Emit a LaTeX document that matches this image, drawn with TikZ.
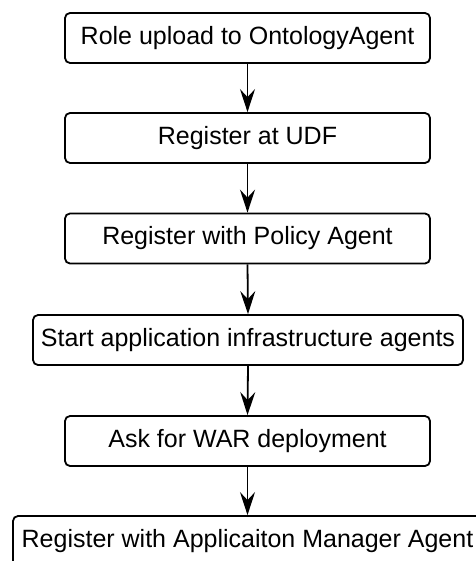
\documentclass[tikz,border=0pt]{standalone}
\usepackage{fontspec}
\setmainfont{Liberation Sans}
\usetikzlibrary{arrows.meta}
\tikzset{
  stepbox/.style={draw=black, line width=1.8pt, rounded corners=5pt,
    inner sep=0pt, minimum height=50pt, align=center,
    font=\fontsize{25}{30}\selectfont},
  flow/.style={draw=black, line width=1.8pt,
    -{Stealth[length=23pt,width=15pt,inset=8pt]}}
}
\begin{document}
\begin{tikzpicture}[x=1pt,y=-1pt]
  \useasboundingbox (0,0) rectangle (475,561);
  \node[stepbox, minimum width=365pt] (s1) at (247.5,38) {Role upload to OntologyAgent};
  \node[stepbox, minimum width=365pt] (s2) at (247.5,138) {Register at UDF};
  \node[stepbox, minimum width=365pt] (s3) at (247.5,238.5) {Register with Policy Agent};
  \node[stepbox, minimum width=430pt] (s4) at (248,340) {Start application infrastructure agents};
  \node[stepbox, minimum width=365pt] (s5) at (247.5,441) {Ask for WAR deployment};
  \node[stepbox, minimum width=469pt] (s6) at (247.5,541) {Register with Applicaiton Manager Agent};
  \draw[flow] (s1.south) -- (s2.north);
  \draw[flow] (s2.south) -- (s3.north);
  \draw[flow] (s3.south) -- (s4.north);
  \draw[flow] (s4.south) -- (s5.north);
  \draw[flow] (s5.south) -- (s6.north);
\end{tikzpicture}
\end{document}
